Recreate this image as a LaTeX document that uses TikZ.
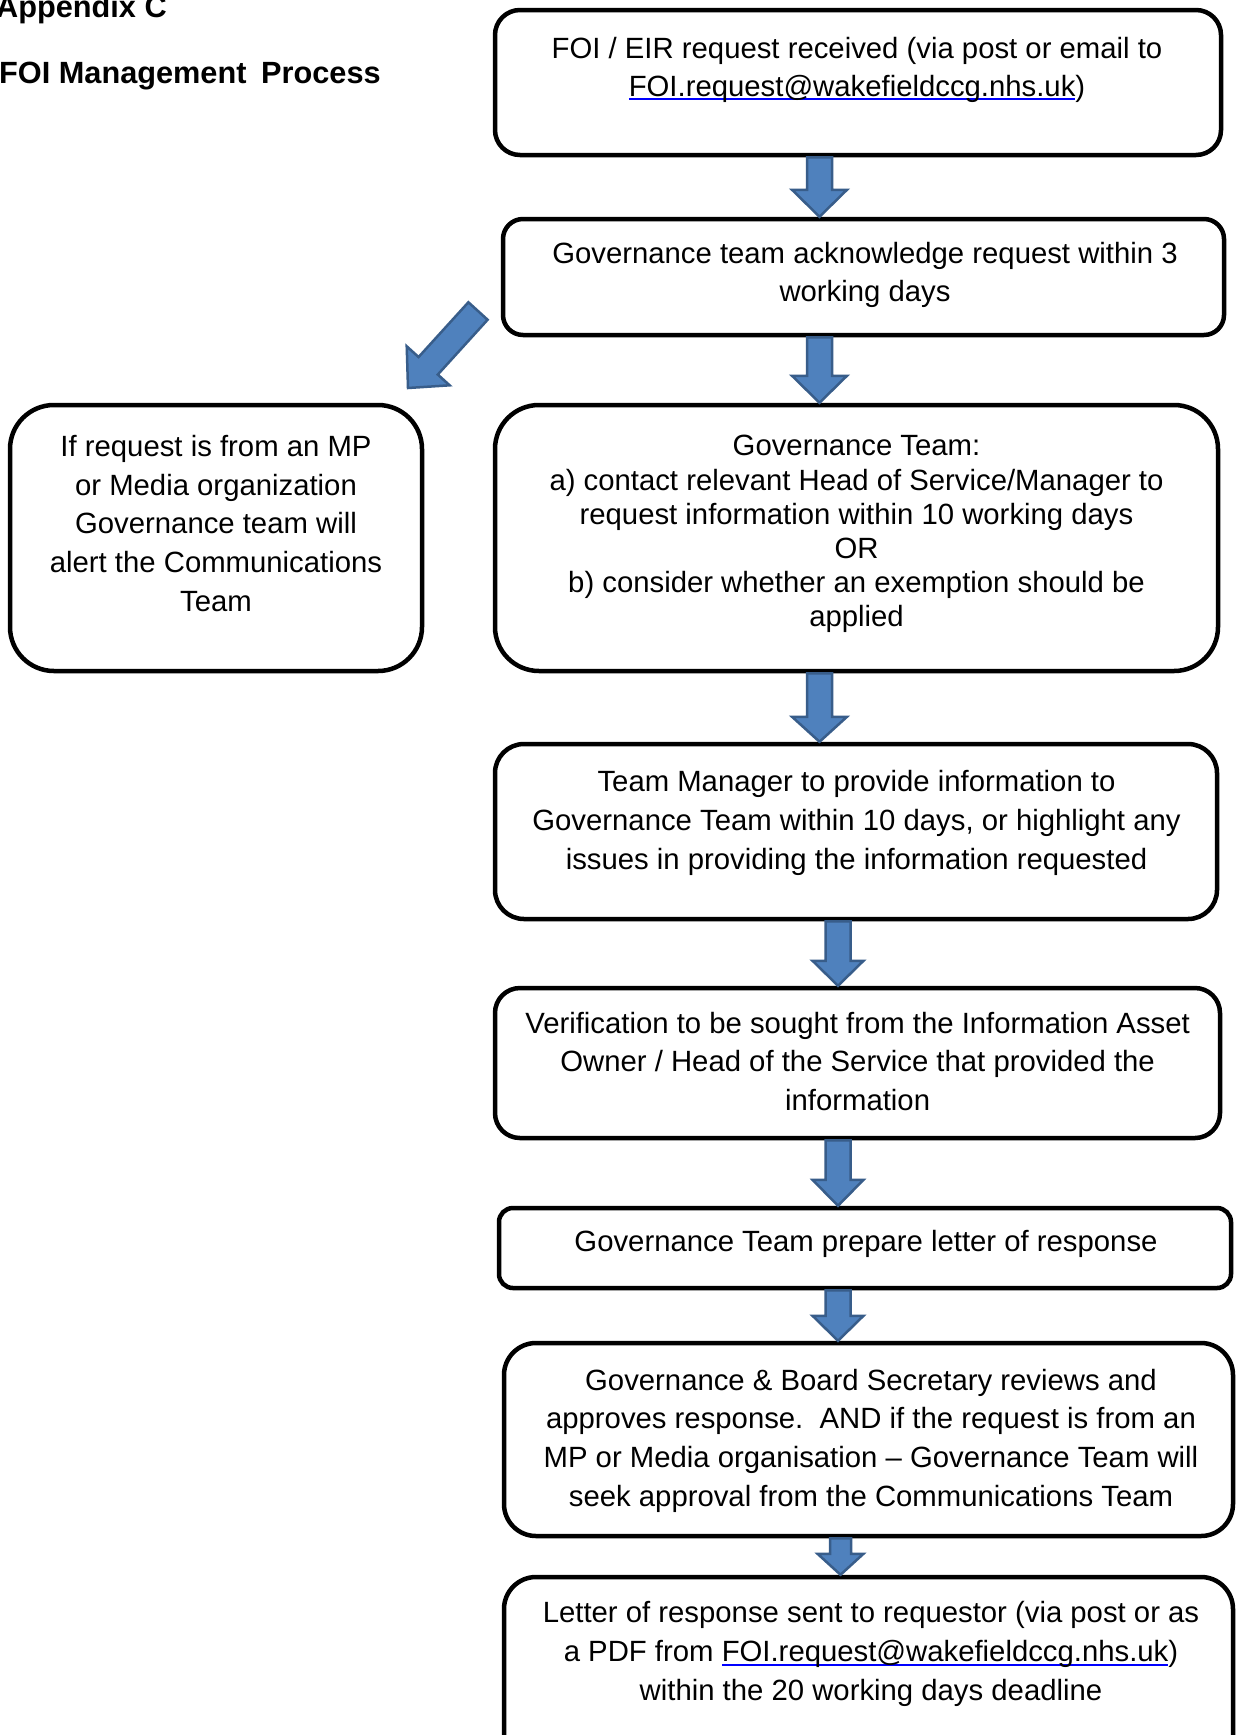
\documentclass[tikz,border=0pt]{standalone}
\usepackage{fontspec}
\setmainfont{Liberation Sans}
\usetikzlibrary{calc,fit}
\definecolor{arrfill}{HTML}{4F81BD}
\definecolor{arrline}{HTML}{385D8A}
\definecolor{linkblue}{HTML}{0000FF}
\frenchspacing
\newsavebox\lnkbox
\newcommand\lnk[1]{\sbox\lnkbox{#1}{\color{linkblue}\rlap{\rule[-4pt]{\wd\lnkbox}{2pt}}\usebox\lnkbox}}
% block arrow: #1 from, #2 to, #3 half shaft, #4 half head, #5 head length
\newcommand\blk[5]{%
 \draw[blkarrow] ($(#1)!#3!90:(#2)$)
   -- ($($(#2)!#5!(#1)$)!#3!-90:(#1)$)
   -- ($($(#2)!#5!(#1)$)!#4!-90:(#1)$)
   -- (#2)
   -- ($($(#2)!#5!(#1)$)!#4!90:(#1)$)
   -- ($($(#2)!#5!(#1)$)!#3!90:(#1)$)
   -- ($(#1)!#3!-90:(#2)$) -- cycle;}
\tikzset{
  box/.style={draw, line width=4.5pt, inner sep=0pt, rounded corners=#1},
  txt/.style={font=\fontsize{29.3}{38.7}\selectfont, align=center, inner sep=0pt},
  ttl/.style={font=\fontsize{30.7}{36}\selectfont\bfseries, inner sep=0pt, anchor=base west},
  blkarrow/.style={fill=arrfill, draw=arrline, line width=2.5pt, line join=miter}
}
\begin{document}
\begin{tikzpicture}[x=1pt,y=-1pt]
\useasboundingbox (0,0) rectangle (1236,1735);
\clip (0,0) rectangle (1236,1735);
\fill[white] (0,0) rectangle (1236,1735);

% titles
\node[ttl] (ta) at (-4,17) {Appendix C};
\node[ttl] (tb) at (-1,83) {FOI Management\hspace{0.2em} Process};

% boxes
\node[box=25pt, fit={(495,10) (1221,155)}] (b1) {};
\node[box=20pt, fit={(503,219) (1224,335)}] (b2) {};
\node[box=44pt, fit={(495,405) (1218,671)}] (b3) {};
\node[box=44pt, fit={(10,405) (422,671)}] (bl) {};
\node[box=29pt, fit={(495,744) (1217,919)}] (b4) {};
\node[box=25pt, fit={(495,988) (1220,1138)}] (b5) {};
\node[box=14pt, fit={(499,1208) (1231,1288)}] (b6) {};
\node[box=32pt, fit={(504,1343) (1233,1536)}] (b7) {};
\node[box=32pt, fit={(504,1577) (1233,1790)}] (b8) {};

% texts
\node[txt, font=\fontsize{29.3}{37.6}\selectfont] (t1) at (857,70) {FOI / EIR request received (via post or email to\\\lnk{FOI.request@wakefieldccg.nhs.uk})};
\node[txt] (t2) at (865,275) {Governance team acknowledge request within 3\\working days};
\node[txt] (tl) at (216,523.5) {If request is from an MP\\or Media organization\\Governance team will\\alert the Communications\\Team};
\node[txt, font=\fontsize{29.3}{34.1}\selectfont] (t3) at (856.5,534) {Governance Team:\\a) contact relevant Head of Service/Manager to\\request information within 10 working days\\OR\\b) consider whether an exemption should be\\applied};
\node[txt] (t4) at (856.5,823) {Team Manager to provide information to\\Governance Team within 10 days, or highlight any\\issues in providing the information requested};
\node[txt] (t5) at (857.6,1061.5) {Verification to be sought from the Information Asset\\Owner / Head of the Service that provided the\\information};
\node[txt] (t6) at (866,1243.5) {Governance Team prepare letter of response};
\node[txt] (t7) at (871,1440.5) {Governance \& Board Secretary reviews and\\approves response.~ AND if the request is from an\\MP or Media organisation -- Governance Team will\\seek approval from the Communications Team};
\node[txt] (t8) at (871,1654) {Letter of response sent to requestor (via post or as\\a PDF from \lnk{FOI.request@wakefieldccg.nhs.uk})\\within the 20 working days deadline};

% arrow columns
\coordinate (ca) at (819.5,0);
\coordinate (cb) at (838,0);
\coordinate (cc) at (840.5,0);
\coordinate (a1s) at (b1.south -| ca);
\coordinate (a1e) at (b2.north -| ca);
\coordinate (a2s) at (b2.south -| ca);
\coordinate (a2e) at (b3.north -| ca);
\coordinate (a3s) at (b3.south -| ca);
\coordinate (a3e) at (b4.north -| ca);
\coordinate (a4s) at (b4.south -| cb);
\coordinate (a4e) at (b5.north -| cb);
\coordinate (a5s) at (b5.south -| cb);
\coordinate (a5e) at (b6.north -| cb);
\coordinate (a6s) at (b6.south -| cb);
\coordinate (a6e) at (b7.north -| cb);
\coordinate (a7s) at (b7.south -| cc);
\coordinate (a7e) at (b8.north -| cc);
\coordinate (dtail) at (478,311);
\coordinate (dtip) at (408,388);

\blk{a1s}{a1e}{12.5pt}{27.5pt}{27pt}
\blk{a2s}{a2e}{12.5pt}{27.5pt}{27pt}
\blk{a3s}{a3e}{12.5pt}{27.5pt}{25pt}
\blk{a4s}{a4e}{12.5pt}{25.5pt}{25pt}
\blk{a5s}{a5e}{12.5pt}{25.5pt}{26pt}
\blk{a6s}{a6e}{12.5pt}{25.5pt}{25pt}
\blk{a7s}{a7e}{10.5pt}{23pt}{21pt}
\blk{dtail}{dtip}{13pt}{29pt}{30pt}
\end{tikzpicture}
\end{document}
